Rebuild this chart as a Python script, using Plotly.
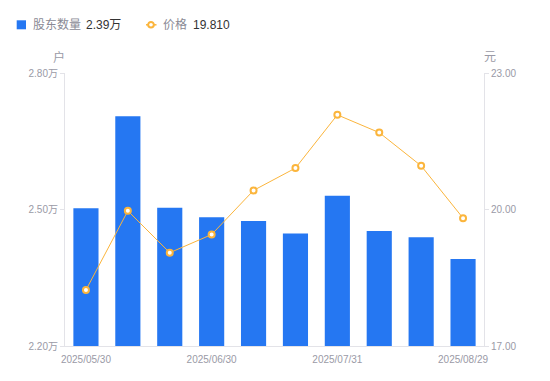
import plotly.graph_objects as go

dates = ["2025/05/30", "2025/06/10", "2025/06/20", "2025/06/30", "2025/07/10",
         "2025/07/20", "2025/07/31", "2025/08/10", "2025/08/20", "2025/08/29"]
holders = [2.503, 2.705, 2.504, 2.483, 2.475, 2.447, 2.530, 2.453, 2.439, 2.391]  # 万户
price = [18.23, 19.97, 19.05, 19.45, 20.42, 20.91, 22.08, 21.69, 20.96, 19.81]
shown_dates = ["2025/05/30", "2025/06/30", "2025/07/31", "2025/08/29"]
left_ticks = [2.20, 2.50, 2.80]
left_ticktext = ["2.20万", "2.50万", "2.80万"]
right_ticks = [17.00, 20.00, 23.00]
right_ticktext = ["17.00", "20.00", "23.00"]
series_names = ["股东数量", "价格"]

FONT = "Liberation Sans, Noto Sans CJK SC, sans-serif"
GRAY = "#9a9aa6"
AXIS = "#e3e3e8"
BLUE = "#2577f2"
ORANGE = "#fbb53c"

W, H = 550, 381
ML, MR, MT, MB = 65, 66, 73, 35
PW, PH = W - ML - MR, H - MT - MB


def px(x):
    return (x - ML) / PW


def py(y):
    return (H - MB - y) / PH


fig = go.Figure()
fig.add_trace(go.Bar(
    x=dates, y=holders, name=series_names[0],
    marker=dict(color=BLUE, line=dict(width=0)), width=0.6, yaxis="y"))
fig.add_trace(go.Scatter(
    x=dates, y=price, name=series_names[1],
    mode="lines+markers", yaxis="y2",
    line=dict(color=ORANGE, width=1),
    marker=dict(symbol="circle", size=6, color="white",
                line=dict(color=ORANGE, width=2))))

legend_y = py(24.8)
annotations = [
    dict(text="户", xref="paper", yref="paper", x=px(59), y=py(57),
         showarrow=False, xanchor="center", yanchor="middle",
         font=dict(size=12, color=GRAY)),
    dict(text="元", xref="paper", yref="paper", x=px(490), y=py(57),
         showarrow=False, xanchor="center", yanchor="middle",
         font=dict(size=12, color=GRAY)),
    dict(text=series_names[0], xref="paper", yref="paper", x=px(30.5), y=legend_y,
         showarrow=False, xanchor="left", yanchor="middle",
         font=dict(size=12, color="#8a8a95")),
    dict(text=f"{holders[-1]:.2f}万", xref="paper", yref="paper", x=px(84), y=legend_y,
         showarrow=False, xanchor="left", yanchor="middle",
         font=dict(size=12, color="#333333")),
    dict(text=series_names[1], xref="paper", yref="paper", x=px(160.5), y=legend_y,
         showarrow=False, xanchor="left", yanchor="middle",
         font=dict(size=12, color="#8a8a95")),
    dict(text=f"{price[-1]:.3f}", xref="paper", yref="paper", x=px(190.5), y=legend_y,
         showarrow=False, xanchor="left", yanchor="middle",
         font=dict(size=12, color="#333333")),
]
shapes = [
    dict(type="rect", xref="paper", yref="paper", x0=px(16.7), x1=px(26), y0=py(29.3), y1=py(20.3),
         fillcolor=BLUE, line=dict(width=0)),
    dict(type="line", xref="paper", yref="paper", x0=px(146), x1=px(156.5), y0=legend_y, y1=legend_y,
         line=dict(color=ORANGE, width=1.5)),
    dict(type="circle", xref="paper", yref="paper", x0=px(148.2), x1=px(153.8),
         y0=py(27.6), y1=py(22.0), fillcolor="white", line=dict(color=ORANGE, width=2)),
]

fig.update_layout(
    width=W, height=H,
    margin=dict(l=ML, r=MR, t=MT, b=MB, autoexpand=False),
    paper_bgcolor="white", plot_bgcolor="white",
    font=dict(family=FONT, size=10, color=GRAY),
    showlegend=False,
    xaxis=dict(type="category", range=[-0.5, len(dates) - 0.5], autorange=False,
               tickmode="array", tickvals=shown_dates,
               ticktext=shown_dates, showgrid=False, showline=True,
               linecolor=AXIS, linewidth=1, ticks="", zeroline=False,
               ticklabelstandoff=4,
               automargin=False, tickfont=dict(size=10, color=GRAY)),
    yaxis=dict(range=[2.20, 2.80], tickmode="array", tickvals=left_ticks,
               ticktext=left_ticktext, showgrid=False, showline=True,
               linecolor=AXIS, linewidth=1, ticks="outside", ticklen=4,
               tickcolor=AXIS, zeroline=False, automargin=False,
               tickfont=dict(size=10, color=GRAY)),
    yaxis2=dict(range=[17.0, 23.0], overlaying="y", side="right",
                tickmode="array", tickvals=right_ticks, ticktext=right_ticktext,
                showgrid=False, showline=True, linecolor=AXIS, linewidth=1,
                ticks="outside", ticklen=4, tickcolor=AXIS, zeroline=False,
                automargin=False, tickfont=dict(size=10, color=GRAY)),
    annotations=annotations,
    shapes=shapes,
)

fig.write_html("out.html", config={"displayModeBar": False},
               post_script="document.body.style.margin='0';")
